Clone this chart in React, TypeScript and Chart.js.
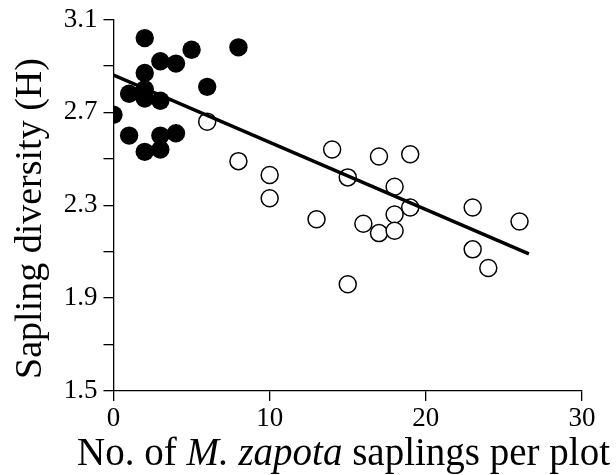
import React, { useEffect, useRef } from "react";
import { Chart, registerables } from "chart.js";

Chart.register(...registerables);

// Data
const filledX = [2, 8, 5, 3, 4, 2, 6, 1, 2, 2, 3, 0, 1, 3, 4, 2, 3];
const filledY = [3.02, 2.98, 2.97, 2.92, 2.91, 2.87, 2.81, 2.78, 2.8, 2.76, 2.75, 2.69, 2.6, 2.6, 2.61, 2.53, 2.54];
const openX = [6, 8, 10, 10, 14, 15, 17, 19, 13, 16, 17, 18, 18, 18, 19, 23, 26, 23, 24, 15];
const openY = [2.66, 2.49, 2.43, 2.33, 2.54, 2.42, 2.51, 2.52, 2.24, 2.22, 2.18, 2.38, 2.26, 2.19, 2.29, 2.29, 2.23, 2.11, 2.03, 1.96];
const fitX = [0, 26.6];
const fitY = [2.861, 2.091];
const yTickLabels = ["1.5", "1.9", "2.3", "2.7", "3.1"];
const xTickLabels = ["0", "10", "20", "30"];
const yTitle = "Sapling diversity (H)";
const xTitleParts = [
  { text: "No. of ", italic: false },
  { text: "M. zapota", italic: true },
  { text: " saplings per plot", italic: false },
];

const FONT = "Liberation Serif, DejaVu Serif, serif";

const titlePlugin = {
  id: "customTitles",
  afterDraw(chart: any) {
    const ctx = chart.ctx;
    ctx.save();
    ctx.fillStyle = "#000";
    const size = 39;
    let total = 0;
    for (const p of xTitleParts) {
      ctx.font = `${p.italic ? "italic " : ""}${size}px ${FONT}`;
      total += ctx.measureText(p.text).width;
    }
    let x = 343.5 - total / 2;
    ctx.textBaseline = "alphabetic";
    ctx.textAlign = "left";
    for (const p of xTitleParts) {
      ctx.font = `${p.italic ? "italic " : ""}${size}px ${FONT}`;
      ctx.fillText(p.text, x, 465);
      x += ctx.measureText(p.text).width;
    }
    ctx.translate(41, 218.5);
    ctx.rotate(-Math.PI / 2);
    ctx.font = `38px ${FONT}`;
    ctx.textAlign = "center";
    ctx.fillText(yTitle, 0, 0);
    ctx.restore();
  },
};

export default function App() {
  const ref = useRef<HTMLCanvasElement | null>(null);
  useEffect(() => {
    document.body.style.margin = "0";
    const chart = new Chart(ref.current!, {
      type: "scatter",
      data: {
        datasets: [
          {
            type: "line",
            data: fitX.map((v, i) => ({ x: v, y: fitY[i] })),
            borderColor: "#000",
            borderWidth: 3.5,
            pointRadius: 0,
            fill: false,
            order: 0,
          } as any,
          {
            data: openX.map((v, i) => ({ x: v, y: openY[i] })),
            backgroundColor: "#fff",
            borderColor: "#000",
            borderWidth: 1.5,
            pointRadius: 8.5,
            order: 1,
          },
          {
            data: filledX.map((v, i) => ({ x: v, y: filledY[i] })),
            backgroundColor: "#000",
            borderColor: "#000",
            borderWidth: 0,
            pointRadius: 9.2,
            order: 2,
          },
        ],
      },
      options: {
        animation: false,
        responsive: false,
        maintainAspectRatio: false,
        layout: { padding: { left: 0, right: 34, top: 16, bottom: 0 } },
        plugins: { legend: { display: false }, tooltip: { enabled: false } },
        scales: {
          x: {
            type: "linear",
            min: 0,
            max: 30,
            afterFit(axis: any) {
              axis.height = 84;
            },
            ticks: {
              stepSize: 10,
              color: "#000",
              font: { family: FONT, size: 27, lineHeight: 1 },
              padding: 4,
              maxRotation: 0,
              callback: (v: any, i: number) => xTickLabels[i] ?? "",
            },
            grid: {
              drawOnChartArea: false,
              drawTicks: true,
              tickLength: 10,
              color: "#000",
              lineWidth: 1.3,
            },
            border: { display: true, color: "#000", width: 1.3 },
          },
          y: {
            type: "linear",
            min: 1.5,
            max: 3.1,
            afterFit(axis: any) {
              axis.width = 113.5;
            },
            ticks: {
              stepSize: 0.2,
              color: "#000",
              font: { family: FONT, size: 27, lineHeight: 1 },
              padding: 6,
              autoSkip: false,
              callback: (v: any, i: number) => (i % 2 === 0 ? yTickLabels[i / 2] ?? "" : ""),
            },
            grid: {
              drawOnChartArea: false,
              drawTicks: true,
              tickLength: 10,
              color: "#000",
              lineWidth: 1.3,
            },
            border: { display: true, color: "#000", width: 1.3 },
          },
        },
      },
      plugins: [titlePlugin],
    });
    return () => chart.destroy();
  }, []);
  return (
    <div style={{ position: "absolute", left: 0, top: 0, width: 616, height: 475, background: "#fff" }}>
      <canvas ref={ref} width={616} height={475} style={{ width: 616, height: 475 }} />
    </div>
  );
}
